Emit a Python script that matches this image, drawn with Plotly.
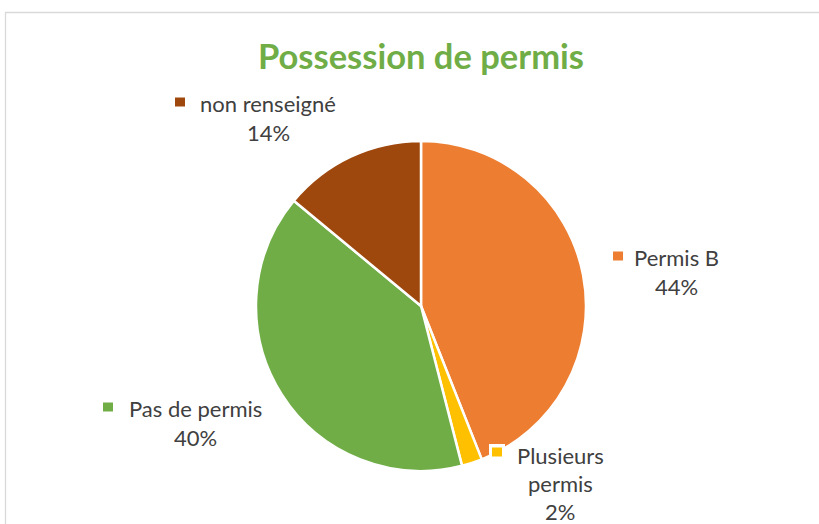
import plotly.graph_objects as go

# Data
categories = ["Permis B", "Plusieurs permis", "Pas de permis", "non renseigné"]
values = [44, 2, 40, 14]
colors = ["#ED7D31", "#FFC000", "#70AD47", "#9E480E"]
pct_labels = ["44%", "2%", "40%", "14%"]
name_lines = [["Permis B"], ["Plusieurs", "permis"], ["Pas de permis"], ["non renseigné"]]

W, H = 819, 524
FONT = "Lato"
TXT = "#404040"

fig = go.Figure()
cx, cy, r = 421, 306, 165
fig.add_trace(go.Pie(
    labels=categories, values=values, sort=False, direction="clockwise",
    rotation=0, marker=dict(colors=colors, line=dict(color="white", width=2.5)),
    textinfo="none", hoverinfo="label+percent", showlegend=False,
    domain=dict(x=[(cx - r) / W, (cx + r) / W], y=[1 - (cy + r) / H, 1 - (cy - r) / H]),
))

# Label layout (pixel positions): marker center, text center x, first line y, line step
label_pos = [
    dict(mx=618, my=256, tx=676, ty=257, step=29),
    dict(mx=497, my=452, tx=560, ty=455, step=28),
    dict(mx=108, my=407, tx=195, ty=408, step=29),
    dict(mx=180, my=102, tx=268, ty=103, step=30),
]

def px(x):
    return x / W

def py(y):
    return 1 - y / H

shapes = [
    # chart border
    dict(type="rect", xref="paper", yref="paper", x0=px(5.5), x1=px(830), y0=py(540), y1=py(12.5),
         line=dict(color="#D9D9D9", width=1.3), fillcolor="rgba(0,0,0,0)", layer="below"),
]
annotations = []
for i, pos in enumerate(label_pos):
    s = 5
    if i == 1:
        shapes.append(dict(type="rect", xref="paper", yref="paper",
                           x0=px(pos["mx"] - 8), x1=px(pos["mx"] + 8),
                           y0=py(pos["my"] + 8), y1=py(pos["my"] - 8),
                           line=dict(width=0), fillcolor="white", layer="above"))
    shapes.append(dict(type="rect", xref="paper", yref="paper",
                       x0=px(pos["mx"] - s), x1=px(pos["mx"] + s),
                       y0=py(pos["my"] + 4.5), y1=py(pos["my"] - 4.5),
                       line=dict(width=0), fillcolor=colors[i], layer="above"))
    lines = name_lines[i] + [pct_labels[i]]
    for k, t in enumerate(lines):
        annotations.append(dict(text=t, x=px(pos["tx"]), y=py(pos["ty"] + k * pos["step"]),
                                xref="paper", yref="paper", showarrow=False,
                                xanchor="center", yanchor="middle",
                                font=dict(family=FONT, size=22, color=TXT)))

annotations.append(dict(text="<b>Possession de permis</b>", x=px(421), y=py(56),
                        xref="paper", yref="paper", showarrow=False,
                        xanchor="center", yanchor="middle",
                        font=dict(family=FONT, size=34.5, color="#70AD47")))

fig.update_layout(
    width=W, height=H, margin=dict(l=0, r=0, t=0, b=0),
    paper_bgcolor="white", plot_bgcolor="white",
    shapes=shapes, annotations=annotations,
)

fig.write_html("out.html")
